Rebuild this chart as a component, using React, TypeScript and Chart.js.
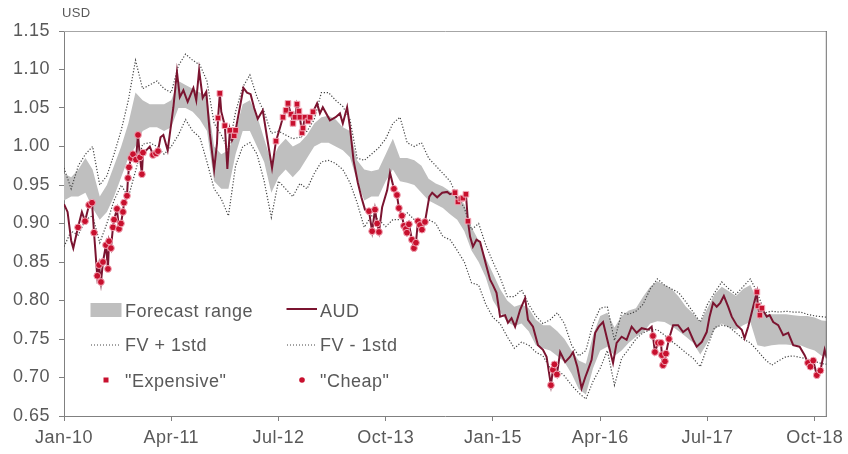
import { useEffect, useRef } from 'react';
import { Chart, registerables } from 'chart.js';

Chart.register(...registerables);

// x values are months since Jan-2010
const xTickMonths = [0, 15, 30, 45, 60, 75, 90, 105];
const xTickLabels = ['Jan-10', 'Apr-11', 'Jul-12', 'Oct-13', 'Jan-15', 'Apr-16', 'Jul-17', 'Oct-18'];
const yTickValues = [0.65, 0.7, 0.75, 0.8, 0.85, 0.9, 0.95, 1.0, 1.05, 1.1, 1.15];

const seriesNames = ['Forecast range', 'AUD', 'FV + 1std', 'FV - 1std', '"Expensive"', '"Cheap"'];

// monthly series (month 0 .. 107)
const fvPlus = [
  0.972, 0.945, 0.975, 0.99, 1.0, 0.95, 0.962, 0.99, 1.021, 1.06,
  1.112, 1.075, 1.08, 1.085, 1.075, 1.07, 1.105, 1.12, 1.112, 1.106,
  1.085, 1.03, 1.015, 0.995, 1.045, 1.077, 1.093, 1.064, 1.045, 1.017,
  1.02, 1.015, 1.01, 1.012, 1.02, 1.035, 1.07, 1.07, 1.06, 1.052,
  1.035, 0.985, 0.982, 0.99, 0.998, 1.01, 1.03, 1.038, 1.005, 1.0,
  1.005, 0.985, 0.975, 0.965, 0.955, 0.935, 0.92, 0.892, 0.9, 0.872,
  0.85, 0.83, 0.805, 0.805, 0.814, 0.795, 0.78, 0.77, 0.775, 0.784,
  0.77, 0.742, 0.728, 0.735, 0.77, 0.79, 0.792, 0.748, 0.784, 0.782,
  0.786, 0.795, 0.815, 0.828, 0.82, 0.815, 0.81, 0.798, 0.785, 0.772,
  0.795, 0.81, 0.824, 0.815, 0.808, 0.818, 0.828, 0.81, 0.784, 0.786,
  0.785, 0.786, 0.785, 0.785, 0.782, 0.78, 0.779, 0.778,
];

const fvMinus = [
  0.87, 0.89, 0.885, 0.905, 0.91, 0.875, 0.9, 0.93, 0.95, 0.934,
  0.968, 1.003, 1.005, 1.0, 0.99, 1.0, 1.015, 1.035, 1.02, 1.012,
  0.98, 0.945, 0.932, 0.91, 0.975, 1.0, 1.005, 0.99, 0.955, 0.908,
  0.955, 0.945, 0.935, 0.952, 0.945, 0.965, 0.98, 0.982, 0.978, 0.97,
  0.953, 0.927, 0.895, 0.91, 0.905, 0.896, 0.905, 0.905, 0.914, 0.905,
  0.9, 0.905, 0.9, 0.883, 0.879, 0.865, 0.85, 0.823, 0.82, 0.795,
  0.778, 0.77, 0.753, 0.738, 0.746, 0.742, 0.733, 0.728, 0.712, 0.71,
  0.702, 0.69, 0.68, 0.672, 0.695, 0.712, 0.735, 0.69, 0.725, 0.737,
  0.75, 0.758, 0.762, 0.762, 0.755, 0.747, 0.74, 0.732, 0.725, 0.714,
  0.74, 0.765, 0.768, 0.766, 0.758, 0.75, 0.745, 0.735, 0.724, 0.716,
  0.722, 0.727, 0.728, 0.726, 0.724, 0.721, 0.718, 0.717,
];

const rangeLow = [
  0.93, 0.935, 0.935, 0.94, 0.92, 0.905, 0.915, 0.935, 0.96, 0.985,
  1.0, 1.02, 1.025, 1.025, 1.02, 1.025, 1.05, 1.05, 1.045, 1.035,
  1.02, 0.955, 0.945, 0.945, 0.99, 1.02, 1.02, 1.0, 0.98, 0.94,
  0.96, 0.97, 0.96, 0.97, 0.985, 1.0, 1.005, 1.005, 1.0, 0.995,
  0.986, 0.955, 0.93, 0.935, 0.935, 0.955, 0.97, 0.955, 0.953, 0.95,
  0.94, 0.93, 0.925, 0.92, 0.912, 0.905, 0.89, 0.865, 0.85, 0.83,
  0.8, 0.785, 0.772, 0.767, 0.77, 0.76, 0.742, 0.738, 0.735, 0.728,
  0.72, 0.705, 0.685, 0.678, 0.712, 0.735, 0.74, 0.728, 0.735, 0.745,
  0.753, 0.758, 0.77, 0.773, 0.772, 0.767, 0.76, 0.753, 0.745, 0.73,
  0.745, 0.762, 0.77, 0.765, 0.762, 0.768, 0.772, 0.742, 0.74, 0.742,
  0.743, 0.743, 0.742, 0.742, 0.738, 0.735, 0.728, 0.727,
];

const rangeHigh = [
  0.965, 0.96, 0.97, 0.985, 0.97, 0.935, 0.95, 0.975, 1.0, 1.03,
  1.07, 1.06, 1.055, 1.055, 1.055, 1.06, 1.085, 1.08, 1.075, 1.07,
  1.065, 1.0, 0.99, 0.995, 1.02, 1.055, 1.06, 1.04, 1.01, 0.98,
  1.0, 1.01, 1.0, 1.005, 1.015, 1.03, 1.038, 1.04, 1.035, 1.025,
  1.02, 0.982, 0.97, 0.968, 0.97, 0.99, 1.01, 0.985, 0.985, 0.982,
  0.975, 0.958, 0.952, 0.948, 0.942, 0.935, 0.925, 0.895, 0.878, 0.855,
  0.835, 0.815, 0.8, 0.792, 0.795, 0.79, 0.775, 0.768, 0.768, 0.76,
  0.75, 0.735, 0.722, 0.718, 0.755, 0.78, 0.784, 0.765, 0.78, 0.787,
  0.79, 0.805, 0.818, 0.825, 0.82, 0.815, 0.805, 0.792, 0.783, 0.772,
  0.79, 0.808, 0.818, 0.812, 0.806, 0.815, 0.82, 0.8, 0.782, 0.782,
  0.782, 0.782, 0.781, 0.78, 0.78, 0.778, 0.774, 0.773,
];

// AUD spot (irregular sampling, months since Jan-2010)
const audMonth = [
  0, 0.5, 1.0, 1.3, 1.96, 2.5, 2.94, 3.5, 3.92, 4.2, 4.65, 4.9, 5.17, 5.45, 5.87, 6.15, 6.3, 6.57, 6.85, 7.0,
  7.41, 7.69, 7.97, 8.25, 8.39, 8.81, 8.95, 9.09, 9.37, 9.65, 10.07, 10.35, 10.63, 10.9, 11.05, 11.5, 12.0, 12.45, 12.87, 13.15,
  13.5, 13.9, 14.5, 15.0, 15.3, 15.8, 16.2, 16.7, 17.3, 18.1, 18.5, 18.9, 19.4, 19.9, 20.4, 21.0, 21.4, 21.55, 21.8, 22.0,
  22.5, 22.85, 23.2, 23.5, 23.8, 24.0, 24.6, 25.1, 25.6, 26.1, 26.6, 27.1, 27.8, 28.4, 29.1, 29.65, 30.2, 30.63, 31.05, 31.33,
  31.75, 32.03, 32.31, 32.59, 32.87, 33.0, 33.29, 33.43, 33.71, 34.13, 34.41, 34.83, 35.4, 35.8, 36.2, 37.2, 38.0, 38.6, 39.0, 39.6,
  40.0, 40.5, 41.1, 41.6, 42.1, 42.66, 43.1, 43.5, 43.8, 44.06, 44.5, 45.2, 45.6, 46.15, 46.57, 46.85, 47.27, 47.55, 47.83, 47.97,
  48.25, 48.67, 48.95, 49.23, 49.51, 49.79, 50.07, 50.49, 51.1, 51.5, 52.2, 52.9, 53.6, 54.0, 54.69, 55.1, 55.52, 55.8, 56.22, 56.5,
  56.8, 57.2, 57.7, 58.2, 58.6, 59.1, 59.6, 60.0, 60.5, 61.0, 61.7, 62.1, 62.6, 63.1, 63.8, 64.5, 64.9, 65.6, 66.3, 67.0,
  67.5, 68.11, 68.39, 68.6, 68.95, 69.4, 70.1, 70.8, 71.2, 71.8, 72.4, 72.9, 73.3, 73.8, 74.3, 74.8, 75.4, 76.1, 76.8, 77.3,
  78.0, 78.7, 79.4, 80.1, 80.8, 81.7, 82.2, 82.38, 82.66, 83.08, 83.5, 83.64, 83.78, 84.06, 84.2, 84.62, 85.2, 85.9, 86.6, 87.3,
  88.0, 88.5, 89.2, 89.9, 90.3, 90.8, 91.3, 91.8, 92.3, 92.9, 93.4, 94.1, 94.8, 95.2, 95.7, 96.4, 96.92, 97.06, 97.34, 97.62,
  98.3, 98.7, 99.2, 99.9, 100.6, 101.3, 102.0, 102.9, 103.6, 104.06, 104.4, 104.8, 105.3, 105.8, 106.4, 106.7,
];
const audValue = [
  0.925, 0.915, 0.878, 0.868, 0.895, 0.915, 0.903, 0.924, 0.927, 0.888, 0.832, 0.846, 0.824, 0.85, 0.872, 0.841, 0.877, 0.868, 0.895, 0.905,
  0.919, 0.893, 0.9, 0.915, 0.927, 0.936, 0.959, 0.973, 0.985, 0.99, 0.983, 1.015, 0.986, 0.964, 0.992, 0.995, 1.0, 0.989, 0.991, 0.994,
  1.012, 1.015, 0.995, 1.03, 1.051, 1.097, 1.064, 1.073, 1.058, 1.076, 1.06, 1.099, 1.063, 1.071, 1.017, 0.97, 1.004, 1.037, 1.069, 1.045,
  1.027, 0.971, 1.021, 1.008, 1.014, 1.021, 1.051, 1.076, 1.07, 1.068, 1.05, 1.036, 1.047, 1.012, 0.972, 1.007, 1.024, 1.038, 1.047, 1.056,
  1.042, 1.03, 1.038, 1.055, 1.046, 1.038, 1.018, 1.024, 1.038, 1.033, 1.038, 1.045, 1.056, 1.043, 1.051, 1.034, 1.038, 1.043, 1.03, 1.051,
  1.025, 0.982, 0.953, 0.934, 0.918, 0.916, 0.89, 0.918, 0.9, 0.889, 0.921, 0.943, 0.966, 0.945, 0.937, 0.92, 0.91, 0.897, 0.893, 0.888,
  0.899, 0.879, 0.868, 0.875, 0.903, 0.898, 0.892, 0.902, 0.935, 0.94, 0.934, 0.94, 0.941, 0.938, 0.94, 0.928, 0.932, 0.933, 0.938, 0.903,
  0.883, 0.87, 0.879, 0.876, 0.862, 0.844, 0.827, 0.82, 0.81, 0.779, 0.781, 0.771, 0.777, 0.766, 0.788, 0.803, 0.775, 0.766, 0.742, 0.736,
  0.727, 0.69, 0.71, 0.717, 0.704, 0.733, 0.72, 0.727, 0.733, 0.714, 0.686, 0.7, 0.71, 0.723, 0.758, 0.766, 0.772, 0.745, 0.719, 0.745,
  0.753, 0.749, 0.766, 0.758, 0.764, 0.762, 0.766, 0.754, 0.733, 0.745, 0.745, 0.729, 0.716, 0.721, 0.731, 0.75, 0.768, 0.768, 0.759, 0.764,
  0.749, 0.74, 0.746, 0.759, 0.779, 0.797, 0.792, 0.797, 0.806, 0.792, 0.779, 0.768, 0.762, 0.751, 0.766, 0.792, 0.811, 0.793, 0.781, 0.79,
  0.779, 0.781, 0.772, 0.768, 0.755, 0.758, 0.742, 0.74, 0.729, 0.719, 0.714, 0.722, 0.703, 0.709, 0.736, 0.725,
];

const expensiveMonth = [
  21.55, 21.8, 22.5, 23.2, 23.8, 24.0,
  29.65, 30.63, 31.05, 31.33, 31.75, 32.03, 32.31, 32.59, 32.87, 33.0, 33.29, 33.43, 33.71, 34.13, 34.41, 34.83,
  54.69, 55.1, 55.52, 55.8, 56.22, 56.5,
  96.92, 97.06, 97.34, 97.62,
];
const expensiveValue = [
  1.037, 1.069, 1.027, 1.021, 1.014, 1.021,
  1.007, 1.038, 1.047, 1.056, 1.042, 1.03, 1.038, 1.055, 1.046, 1.038, 1.018, 1.024, 1.038, 1.033, 1.038, 1.045,
  0.94, 0.928, 0.932, 0.933, 0.938, 0.903,
  0.811, 0.793, 0.781, 0.79,
];

const cheapMonth = [
  1.96, 2.94, 3.5, 3.92, 4.2, 4.65, 4.9, 5.17, 5.45, 5.87, 6.15, 6.3, 6.57, 6.85, 7.0, 7.41, 7.69, 7.97, 8.25, 8.39,
  8.81, 8.95, 9.09, 9.37, 9.65, 10.07, 10.35, 10.63, 10.9, 11.05, 12.45, 12.87, 13.15,
  42.66, 43.1, 43.5, 43.8, 44.06, 46.15, 46.57, 46.85, 47.27, 47.55, 47.83, 47.97, 48.25, 48.67, 48.95, 49.23, 49.51, 49.79, 50.07, 50.49,
  68.11, 68.39, 68.6, 68.95,
  82.38, 82.66, 83.08, 83.5, 83.64, 83.78, 84.06, 84.2, 84.62,
  104.06, 104.4, 104.8, 105.3, 105.8,
];
const cheapValue = [
  0.895, 0.903, 0.924, 0.927, 0.888, 0.832, 0.846, 0.824, 0.85, 0.872, 0.841, 0.877, 0.868, 0.895, 0.905, 0.919, 0.893, 0.9, 0.915, 0.927,
  0.936, 0.959, 0.973, 0.985, 0.99, 0.983, 1.015, 0.986, 0.964, 0.992, 0.989, 0.991, 0.994,
  0.916, 0.89, 0.918, 0.9, 0.889, 0.945, 0.937, 0.92, 0.91, 0.897, 0.893, 0.888, 0.899, 0.879, 0.868, 0.875, 0.903, 0.898, 0.892, 0.902,
  0.69, 0.71, 0.717, 0.704,
  0.754, 0.733, 0.745, 0.745, 0.729, 0.716, 0.721, 0.731, 0.75,
  0.719, 0.714, 0.722, 0.703, 0.709,
];

const FONT = '"Liberation Sans", Arial, Helvetica, sans-serif';
const TEXT = '#595959';
const AXIS = '#808080';
const AUD_COLOR = '#7b1430';
const MARK_COLOR = '#c8102e';
const MARK_BORDER = '#f2a9b8';
const BAND = '#bfbfbf';
const DOT = '#444444';

const monthly = (arr: number[]) => arr.map((y, i) => ({ x: i, y }));
const pairs = (xs: number[], ys: number[]) => xs.map((x, i) => ({ x, y: ys[i] }));

const spacingPlugin = {
  id: 'spacing',
  beforeDraw(chart: any) {
    try {
      (chart.ctx as any).letterSpacing = '0.5px';
    } catch (e) {
      /* ignore */
    }
  },
};

const overlayPlugin = {
  id: 'overlay',
  afterDraw(chart: any) {
    const ctx = chart.ctx as CanvasRenderingContext2D;
    const a = chart.chartArea;
    ctx.save();
    // frame top & right
    ctx.lineWidth = 1;
    ctx.strokeStyle = '#a6a6a6';
    ctx.beginPath();
    ctx.moveTo(a.left, a.top + 0.5);
    ctx.lineTo(a.right, a.top + 0.5);
    ctx.stroke();
    ctx.strokeStyle = '#6f6f6f';
    ctx.beginPath();
    ctx.moveTo(a.right - 0.5, a.top);
    ctx.lineTo(a.right - 0.5, a.bottom);
    ctx.stroke();

    // unit label
    ctx.fillStyle = TEXT;
    (ctx as any).letterSpacing = '0.3px';
    ctx.font = `13px ${FONT}`;
    ctx.textBaseline = 'alphabetic';
    ctx.textAlign = 'left';
    ctx.fillText('USD', a.left - 2, 17);

    // legend
    const c1s = a.left + 26;
    const c1t = a.left + 61;
    const c2s = a.left + 222;
    const c2t = a.left + 256;
    const r1 = a.top + 279;
    const r2 = a.top + 313.5;
    const r3 = a.top + 349;
    (ctx as any).letterSpacing = '0.5px';
    ctx.font = `18px ${FONT}`;

    // row 1
    ctx.fillStyle = BAND;
    ctx.fillRect(c1s + 0.5, r1 - 7, 31, 14);
    ctx.strokeStyle = AUD_COLOR;
    ctx.lineWidth = 2;
    ctx.beginPath();
    ctx.moveTo(c2s + 0.5, r1 - 1);
    ctx.lineTo(c2s + 31, r1 - 1);
    ctx.stroke();
    ctx.fillStyle = TEXT;
    ctx.fillText(seriesNames[0], c1t, r1 + 6.5);
    ctx.fillText(seriesNames[1], c2t, r1 + 6.5);

    // row 2
    ctx.strokeStyle = DOT;
    ctx.lineWidth = 1;
    ctx.setLineDash([1, 2]);
    ctx.beginPath();
    ctx.moveTo(c1s + 1, r2 + 0.5);
    ctx.lineTo(c1s + 31, r2 + 0.5);
    ctx.moveTo(c2s + 1, r2 + 0.5);
    ctx.lineTo(c2s + 29, r2 + 0.5);
    ctx.stroke();
    ctx.setLineDash([]);
    ctx.fillText(seriesNames[2], c1t, r2 + 6.5);
    ctx.fillText(seriesNames[3], c2t, r2 + 6.5);

    // row 3
    ctx.fillStyle = MARK_COLOR;
    ctx.fillRect(c1s + 13.5, r3 - 2.5, 5, 5);
    ctx.beginPath();
    ctx.arc(c2s + 16, r3, 2.8, 0, Math.PI * 2);
    ctx.fill();
    ctx.fillStyle = TEXT;
    ctx.fillText(seriesNames[4], c1t, r3 + 6.5);
    ctx.fillText(seriesNames[5], c2t, r3 + 6.5);
    ctx.restore();
  },
};

export default function App() {
  const ref = useRef<HTMLCanvasElement | null>(null);

  useEffect(() => {
    if (!ref.current) return;
    const chart = new Chart(ref.current, {
      type: 'line',
      data: {
        datasets: [
          {
            label: seriesNames[4],
            data: pairs(expensiveMonth, expensiveValue),
            showLine: false,
            pointStyle: 'rect',
            pointRadius: 4,
            pointBackgroundColor: MARK_COLOR,
            pointBorderColor: MARK_BORDER,
            pointBorderWidth: 1,
          },
          {
            label: seriesNames[5],
            data: pairs(cheapMonth, cheapValue),
            showLine: false,
            pointStyle: 'circle',
            pointRadius: 3.4,
            pointBackgroundColor: MARK_COLOR,
            pointBorderColor: MARK_BORDER,
            pointBorderWidth: 1,
          },
          {
            label: seriesNames[1],
            data: pairs(audMonth, audValue),
            borderColor: AUD_COLOR,
            borderWidth: 2,
            pointRadius: 0,
            tension: 0,
            fill: false,
          },
          {
            label: seriesNames[2],
            data: monthly(fvPlus),
            borderColor: DOT,
            borderWidth: 1.2,
            borderDash: [1.2, 1.8],
            pointRadius: 0,
            tension: 0,
            fill: false,
          },
          {
            label: seriesNames[3],
            data: monthly(fvMinus),
            borderColor: DOT,
            borderWidth: 1.2,
            borderDash: [1.2, 1.8],
            pointRadius: 0,
            tension: 0,
            fill: false,
          },
          {
            label: seriesNames[0],
            data: monthly(rangeHigh),
            borderColor: 'rgba(0,0,0,0)',
            borderWidth: 0,
            backgroundColor: BAND,
            pointRadius: 0,
            tension: 0,
            fill: 6,
          },
          {
            label: 'range low',
            data: monthly(rangeLow),
            borderColor: 'rgba(0,0,0,0)',
            borderWidth: 0,
            pointRadius: 0,
            tension: 0,
            fill: false,
          },
        ],
      },
      options: {
        animation: false,
        responsive: false,
        events: [],
        layout: { padding: { top: 31, right: 21, left: 0, bottom: 0 } },
        plugins: {
          legend: { display: false },
          tooltip: { enabled: false },
          filler: { drawTime: 'beforeDatasetsDraw' },
        },
        scales: {
          x: {
            type: 'linear',
            min: 0,
            max: 106.7,
            afterFit: (s: any) => {
              s.height = 38;
            },
            afterBuildTicks: (s: any) => {
              s.ticks = xTickMonths.map((v) => ({ value: v }));
            },
            ticks: {
              autoSkip: false,
              maxRotation: 0,
              padding: 6,
              color: TEXT,
              font: { family: FONT, size: 18 },
              callback: (v: any) => {
                const i = xTickMonths.indexOf(Number(v));
                return i >= 0 ? xTickLabels[i] : '';
              },
            },
            grid: { display: true, drawOnChartArea: false, drawTicks: true, tickLength: 5, color: AXIS },
            border: { display: true, color: AXIS, width: 1 },
          },
          y: {
            type: 'linear',
            min: 0.65,
            max: 1.15,
            afterFit: (s: any) => {
              s.width = 64;
            },
            afterBuildTicks: (s: any) => {
              s.ticks = yTickValues.map((v) => ({ value: v }));
            },
            ticks: {
              padding: 9,
              color: TEXT,
              font: { family: FONT, size: 18 },
              callback: (v: any) => Number(v).toFixed(2),
            },
            grid: { display: true, drawOnChartArea: false, drawTicks: true, tickLength: 5, color: AXIS },
            border: { display: true, color: AXIS, width: 1 },
          },
        },
      },
      plugins: [spacingPlugin, overlayPlugin],
    } as any);
    return () => chart.destroy();
  }, []);

  return (
    <div style={{ position: 'absolute', left: 0, top: 0, width: 848, height: 454, background: '#ffffff' }}>
      <canvas ref={ref} width={848} height={454} style={{ width: 848, height: 454, display: 'block' }} />
    </div>
  );
}
